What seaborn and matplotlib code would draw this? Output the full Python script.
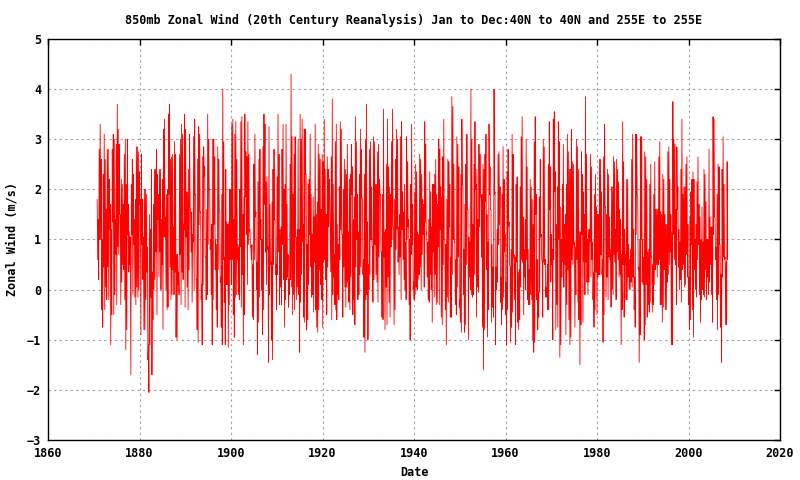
import matplotlib
matplotlib.use("Agg")
import matplotlib.pyplot as plt
import seaborn as sns
import numpy as np
import pandas as pd

# monthly 850mb zonal wind as (high, low) swings, ~4 per year
wind_1871_1890 = [1.8,0.6, 1.4,0.2, 2.8,1.0, 3.3,1.0, 2.6,-0.4, 1.0,-0.75, 2.3,0.45, 3.1,-0.4, 2.6,0.05, 1.6,-0.2,
    2.8,0.45, 2.8,-0.2, 2.2,1.2, 1.7,-1.1, 1.2,-0.5, 2.8,1.35, 3.1,-0.5, 3.0,-0.1, 1.4,0.7, 2.9,-0.3,
    3.7,0.85, 3.2,0.7, 2.9,1.5, 1.5,-0.3, 2.2,0.15, 2.1,0.5, 1.7,0.4, 2.7,-0.2, 3.0,-1.2, 2.1,-0.8,
    3.0,1.1, 1.7,0.35, 1.15,0.5, 1.05,-1.7, 2.1,1.1, 2.6,-0.1, 2.3,0.9, 1.4,-0.15, 1.8,-0.3, 2.85,0.05,
    2.85,-0.15, 2.75,0.0, 2.35,1.7, 1.8,-0.9, 2.7,0.9, 1.8,0.2, 1.05,-0.8, 2.0,-0.8, 2.0,-0.2, 1.9,0.35,
    0.85,-1.4, -1.1,-2.05, 1.5,-1.1, 1.2,-0.15, 2.4,-1.7, 0.35,-0.6, 1.7,0.0, 2.4,0.2, 2.4,0.75, 2.8,-0.5,
    2.3,1.4, 1.9,0.25, 2.4,0.75, 2.4,0.0, 1.4,0.5, 2.2,-0.8, 3.2,1.05, 3.4,1.05, 1.45,0.0, 1.9,-0.4,
    2.0,-0.35, 3.5,1.9, 3.7,0.45, 2.6,-0.2, 2.65,-0.1, 2.7,0.4, 1.25,-0.1, 2.95,0.35, 2.7,-0.95, 0.7,-1.0,
    0.7,0.1, 0.35,-0.1, 2.7,0.7, 3.0,-0.3, 3.3,0.35]
wind_1890_1910 = [3.1,0.2, 1.3,1.2, 3.5,-0.35, 3.2,1.05, 1.95,0.05, 1.95,-0.4, 2.4,0.4, 3.1,1.65, 1.55,0.75, 1.55,-0.25,
    1.1,0.95, 3.05,0.0, 3.4,1.9, 1.9,0.2, 0.2,-0.8, 2.6,-1.05, 3.25,1.3, 3.1,1.55, 1.55,-0.2, 0.1,-1.1,
    2.65,0.1, 2.85,2.25, 2.45,0.65, 0.65,-0.2, 1.6,-0.1, 3.5,0.9, 3.0,2.0, 2.0,0.8, 1.0,-0.1, 1.3,-1.1,
    3.0,-0.2, 3.0,1.3, 2.65,0.4, 1.0,-0.4, 0.9,-0.75, 2.85,0.4, 2.6,1.6, 1.55,0.15, 0.25,-0.75, 1.9,-1.1,
    4.0,0.6, 2.95,-0.25, 0.65,-1.1, 2.4,0.1, 1.35,0.1, 1.3,-1.15, 1.35,-0.3, 2.0,0.6, 2.0,0.1, 3.3,0.6,
    3.4,-0.5, 1.4,-0.95, 3.1,-0.15, 3.35,-0.1, 2.6,0.6, 0.9,-0.1, 0.85,-0.2, 2.0,0.85, 3.35,-0.35, 3.45,0.3,
    1.5,-1.1, 1.85,-0.5, 3.5,1.85, 2.75,1.1, 2.65,0.1, 3.35,0.9, 2.7,1.15, 1.2,0.85, 0.85,0.6, 0.9,-0.55,
    0.5,-0.6, 2.5,0.6, 3.1,1.45, 1.55,0.0, 0.55,-1.3, 2.15,-0.65, 2.6,-0.15, 2.8,1.0, 1.4,0.0, 1.0,-0.9,
    2.85,-0.4, 3.5,1.7, 3.3,0.75, 2.15,0.1, 2.25,0.8, 0.85,-1.45, 3.25,-0.1, 1.7,0.5, 0.55,-1.0, 1.75,-1.4,
    2.4,0.5, 2.8,1.4]
wind_1910_1930 = [1.4,0.3, 0.5,-0.4, 2.25,0.3, 3.5,0.75, 2.7,-0.3, 1.2,0.05, 1.25,-0.3, 2.8,0.9, 3.3,0.2, 2.0,-0.75,
    2.1,-0.2, 3.3,0.2, 1.7,0.25, 0.7,-0.35, 0.2,-0.1, 2.5,0.2, 4.3,0.05, 3.05,-0.5, 1.9,-0.1, 2.7,-0.4,
    3.05,1.05, 1.05,-0.2, 1.2,0.05, 3.0,-0.1, 1.2,-1.25, 3.5,-0.25, 3.0,0.3, 3.4,0.95, 1.3,-0.55, 3.2,-0.65,
    3.2,2.3, 2.3,-0.8, 0.9,-0.6, 2.1,0.1, 2.2,1.1, 3.1,0.45, 1.9,-0.15, 1.1,-0.1, 1.85,-0.45, 1.45,0.55,
    3.3,-0.4, 1.5,-0.75, 1.75,-0.85, 2.9,-0.4, 2.7,0.4, 2.6,0.1, 1.6,-0.2, 2.7,-0.75, 2.55,0.55, 3.4,0.6,
    2.4,0.2, 1.5,-0.5, 2.65,0.45, 2.4,1.25, 2.2,1.8, 1.1,0.35, 2.65,-0.6, 3.8,-0.1, 2.1,0.25, 0.7,-0.3,
    2.95,-0.4, 3.3,-0.6, 1.3,-0.1, 0.9,-0.2, 2.05,0.6, 3.35,1.2, 3.2,1.1, 1.1,-0.55, 2.0,0.45, 2.6,0.05,
    2.4,-0.35, 2.3,0.05, 2.9,0.15, 1.15,-0.25, 2.2,-0.4, 2.3,0.25, 2.9,1.9, 2.45,-0.5, 1.4,-0.2, 1.85,-0.7,
    3.45,0.45, 2.95,1.0, 1.9,-0.2, 1.15,-0.1, 2.3,0.3, 3.2,0.45, 2.8,1.85, 1.8,0.3, 0.6,-0.95, 2.3,-1.25,
    3.0,-0.2, 3.7,-0.1]
wind_1930_1950 = [1.35,-1.0, 0.5,0.0, 2.8,0.3, 2.95,1.0, 2.05,0.85, 0.85,-0.25, 3.05,0.2, 2.95,0.9, 2.1,0.3, 2.1,0.15,
    2.75,-0.25, 2.9,0.65, 2.2,1.9, 1.9,0.75, 0.75,-0.55, 1.9,-0.6, 3.6,0.65, 1.15,-0.8, 1.2,0.05, 2.5,-0.7,
    3.4,0.25, 2.45,-0.25, 2.05,-0.55, 1.9,0.85, 2.95,1.0, 3.6,1.25, 1.25,-0.7, 1.8,-0.4, 2.6,0.8, 3.2,1.2,
    3.0,0.55, 1.25,0.3, 1.5,0.65, 3.05,-0.2, 3.35,1.2, 1.95,0.6, 1.55,0.2, 2.1,0.0, 0.95,-0.2, 3.05,1.0,
    2.55,1.25, 1.4,-0.3, 1.0,-1.0, 2.1,0.7, 3.3,0.9, 1.7,0.0, 0.15,-0.2, 1.95,-0.1, 2.5,0.05, 2.35,0.0,
    1.15,0.2, 1.1,0.3, 2.7,0.45, 2.6,0.0, 2.3,0.7, 1.8,1.1, 1.7,0.05, 3.35,1.35, 2.9,1.1, 1.15,0.25,
    0.95,-0.2, 1.4,-0.25, 2.35,0.3, 1.95,0.0, 1.25,-0.65, 2.1,0.75, 2.1,-0.15, 2.3,0.3, 2.6,-0.3, 1.9,-0.25,
    1.7,0.85, 3.0,-0.3, 2.8,1.2, 2.05,-0.55, 1.85,-0.7, 2.65,0.5, 3.4,1.0, 1.0,-0.4, 0.9,-1.1, 1.8,-0.15,
    2.6,-0.25, 2.55,1.25, 2.1,-0.55, 0.65,-0.55, 3.85,0.3, 3.65,1.0, 2.5,0.95, 0.95,-0.3, 0.6,-0.5, 3.05,0.05,
    2.9,0.65, 2.45,-0.35]
wind_1950_1970 = [-0.2,-0.65, 2.3,-0.85, 3.4,2.1, 2.1,-0.1, 0.8,-0.85, 1.7,-0.7, 2.5,0.5, 3.1,1.6, 1.6,-1.0, 1.05,0.25,
    0.95,0.0, 4.0,-0.1, 3.0,-0.15, 1.3,-0.1, 2.5,0.3, 3.35,2.0, 2.1,-0.55, 2.4,0.05, 1.4,-0.05, 2.9,1.25,
    2.7,1.85, 1.85,0.65, 1.9,-0.75, 2.5,-1.6, 2.4,-0.8, 2.7,1.75, 3.1,0.4, 1.5,-0.95, 0.95,-0.4, 3.3,1.9,
    2.45,1.6, 1.6,-0.65, 0.9,-0.35, 0.45,-0.55, 4.0,1.9, 1.95,-1.1, 0.45,0.0, 1.2,0.15, 2.7,0.9, 2.75,1.3,
    2.05,-0.25, 0.25,-0.7, 1.9,-0.4, 2.85,-0.15, 2.2,0.75, 1.1,-0.5, 0.15,-1.1, 2.35,-0.4, 2.8,1.25, 1.35,0.5,
    0.45,-1.05, 0.8,-0.75, 3.1,-0.45, 2.7,0.65, 0.7,-0.2, 0.65,-1.1, 2.1,0.55, 2.25,-0.65, 0.35,-0.8, 0.4,-0.6,
    2.05,0.05, 3.05,0.6, 3.45,0.55, 1.45,-0.5, 0.8,0.25, 1.4,0.0, 3.0,0.6, 2.45,-0.2, 0.8,-0.3, 0.4,-0.3,
    2.2,-0.1, 2.05,-0.2, 1.8,-1.0, 1.3,-1.25, 2.95,-1.05, 3.45,1.5, 1.9,-0.2, 0.6,-0.8, -0.05,-0.55, 1.85,-0.05,
    2.6,1.05, 1.1,0.6, 0.55,-0.55, 3.0,0.55, 2.85,0.5, 0.6,-0.15, 0.05,-0.15, 0.5,-0.4, 2.5,-0.4, 3.35,1.6,
    2.45,0.15, 1.1,0.5]
wind_1970_1990 = [0.8,-1.0, 3.4,0.6, 3.55,1.95, 2.35,-0.8, 1.3,-0.3, 2.05,-0.75, 3.35,1.0, 2.95,-1.35, 1.65,-1.1, 1.0,0.25,
    2.1,0.55, 2.9,0.05, 1.3,0.5, 1.5,-0.9, 2.1,-0.3, 3.1,0.4, 2.75,-0.6, 2.4,-1.1, 2.4,-0.95, 3.2,0.6,
    2.55,0.5, 2.5,0.9, 0.95,-0.75, 0.85,-0.1, 3.0,0.6, 2.85,-0.25, 2.4,-0.6, 1.15,-1.5, 1.15,-0.7, 2.75,1.1,
    2.3,-0.65, 1.95,0.55, 1.5,-0.1, 3.85,0.55, 2.7,0.15, 1.0,-0.1, 1.2,0.15, 1.2,0.95, 2.7,0.25, 2.45,0.6,
    0.95,-0.2, 0.35,-0.75, 1.9,-0.4, 2.3,0.35, 1.65,-0.5, 1.5,0.25, 1.5,0.3, 2.6,0.3, 2.6,0.7, 1.95,0.3,
    0.6,-1.05, 2.65,-0.5, 3.3,1.65, 1.65,-0.15, 1.5,0.25, 2.4,-0.2, 2.3,0.65, 1.45,0.6, 0.8,-0.35, 2.05,0.0,
    2.05,-0.1, 2.65,0.7, 2.55,0.55, 1.2,-0.2, 2.6,0.75, 2.4,0.6, 2.15,0.25, 1.6,0.3, 1.4,-1.1, 0.7,-0.4,
    3.35,0.5, 2.55,-0.55, 1.2,0.5, 0.7,-0.2, 2.2,-0.2, 2.2,0.25, 0.9,0.0, 0.6,0.0, 0.8,0.15, 2.6,0.05,
    3.1,0.25, 1.2,-0.4, 0.25,-0.75, 3.1,1.1, 3.1,1.9, 1.85,0.4, 0.45,-1.45, 1.0,-0.9, 3.05,1.0, 3.05,0.15,
    1.0,0.1, 0.65,-1.0]
wind_1990_2008 = [2.75,-0.7, 2.65,0.1, 2.2,-0.55, 0.75,-0.3, 0.8,-0.45, 2.1,-0.25, 2.5,0.65, 0.65,-0.45, 0.5,-0.3, 1.9,0.1,
    2.55,0.4, 1.6,0.5, 1.6,0.25, 1.6,0.5, 2.65,0.6, 2.95,-0.3, 1.55,-0.3, 1.5,-0.65, 2.3,-0.35, 2.2,0.4,
    1.5,-0.4, 1.3,-0.4, 1.3,0.15, 2.75,0.3, 2.85,0.5, 2.2,0.75, 1.5,-1.1, 1.15,-1.1, 3.75,1.1, 3.0,0.6,
    2.9,0.5, 1.6,-0.3, 2.85,1.6, 2.05,0.45, 1.2,0.0, 0.95,0.2, 2.4,-0.25, 3.4,0.4, 1.9,0.5, 2.05,0.05,
    2.05,0.1, 2.5,0.7, 2.65,0.25, 1.3,-0.3, 0.25,-0.8, 1.45,-0.6, 1.95,0.9, 2.2,-0.4, 2.35,-0.95, 2.2,0.4,
    1.0,0.0, 1.3,-0.15, 2.15,0.6, 2.65,0.9, 1.7,-0.1, 1.45,-0.65, 1.0,-0.2, 1.65,0.0, 0.95,-0.1, 2.4,-0.15,
    2.3,0.4, 1.75,-0.2, 1.0,0.25, 1.0,-0.1, 2.8,0.15, 1.45,0.5, 1.25,-0.1, 1.25,-0.65, 3.45,1.1, 3.4,1.45,
    1.45,0.6, 0.85,-0.2, 1.9,-0.8, 2.5,-0.1, 2.45,0.9, 0.9,-0.75, 0.3,-1.45, 2.4,0.25, 3.05,0.65, 2.1,0.6,
    0.65,-0.7, 0.55,-0.7, 2.55,0.6]

wind = wind_1871_1890 + wind_1890_1910 + wind_1910_1930 + wind_1930_1950 + wind_1950_1970 + wind_1970_1990 + wind_1990_2008
first_date, last_date = 1870.75, 2008.55
dates = np.linspace(first_date, last_date, len(wind))
df = pd.DataFrame({"Date": dates, "wind": wind})

sns.set_style("white")
plt.rcParams["font.family"] = ["DejaVu Sans Mono"]
plt.rcParams["text.color"] = "black"
plt.rcParams["axes.labelcolor"] = "black"
plt.rcParams["xtick.color"] = "black"
plt.rcParams["ytick.color"] = "black"

fig = plt.figure(figsize=(8, 4.8), dpi=100)
ax = fig.add_axes([0.06, 0.0833, 0.915, 0.8355])
sns.lineplot(data=df, x="Date", y="wind", color="red", linewidth=0.6, estimator=None, ax=ax)

ax.set_xlim(1860, 2020)
ax.set_ylim(-3, 5)
ax.set_xticks(range(1860, 2021, 20))
ax.set_yticks(range(-3, 6))
ax.grid(True, color="#a0a0a0", linestyle=(0, (2, 3)), linewidth=0.8)
ax.tick_params(direction="in", top=True, right=True, length=4, width=1, labelsize=8.5)
ax.tick_params(axis="x", pad=5)
ax.tick_params(axis="y", pad=5)
for s in ax.spines.values():
    s.set_color("black")
    s.set_linewidth(1)
for lab in ax.get_xticklabels() + ax.get_yticklabels():
    lab.set_fontweight("bold")

ax.set_xlabel("Date", fontsize=8.5, fontweight="bold", labelpad=4)
ax.set_ylabel("Zonal Wind (m/s)", fontsize=8.5, fontweight="bold", labelpad=6)
ax.set_title("850mb Zonal Wind (20th Century Reanalysis) Jan to Dec:40N to 40N and 255E to 255E",
             fontsize=8.5, fontweight="bold", pad=11)

plt.savefig("out.png", dpi=100)
